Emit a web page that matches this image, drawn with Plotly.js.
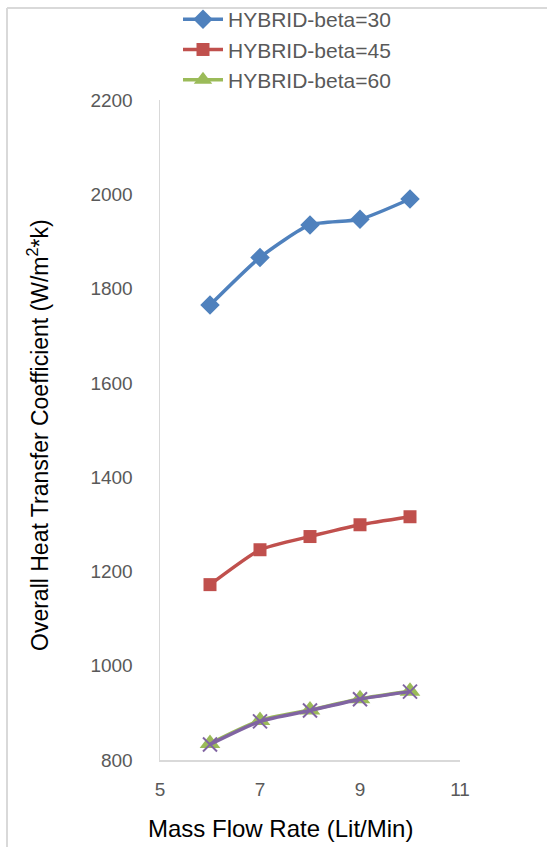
<!DOCTYPE html>
<html>
<head>
<meta charset="utf-8">
<script src="https://cdn.plot.ly/plotly-3.0.1.min.js"></script>
<style>html,body{margin:0;padding:0;background:#fff;}#chart{width:547px;height:847px;}</style>
</head>
<body>
<div id="chart"></div>
<script>
const flowRate = [6, 7, 8, 9, 10];
const beta30 = [1765, 1866, 1935, 1947, 1990];
const beta45 = [1172, 1246, 1274, 1299, 1316];
const beta60 = [835, 884, 906, 930, 946];
const hidden = [833, 882, 905, 929, 945];
const names = ['HYBRID-beta=30', 'HYBRID-beta=45', 'HYBRID-beta=60'];
const xTicks = [5, 7, 9, 11];
const yTicks = [800, 1000, 1200, 1400, 1600, 1800, 2000, 2200];
const xTitle = 'Mass Flow Rate (Lit/Min)';
const yTitle = 'Overall Heat Transfer Coefficient (W/m<sup>2</sup>*k)';

const traces = [
  {x: flowRate, y: beta30, name: names[0], mode: 'lines+markers',
   line: {color: '#4F81BD', width: 3.5, shape: 'spline', smoothing: 0.6},
   marker: {symbol: 'diamond', size: 15, color: '#4F81BD'}},
  {x: flowRate, y: beta45, name: names[1], mode: 'lines+markers',
   line: {color: '#C0504D', width: 3.5, shape: 'spline', smoothing: 0.5},
   marker: {symbol: 'square', size: 13, color: '#C0504D'}},
  {x: flowRate, y: beta60, name: names[2], mode: 'lines+markers',
   line: {color: '#9BBB59', width: 3.5, shape: 'spline', smoothing: 0.6},
   marker: {symbol: 'triangle-up', size: 18, color: '#9BBB59'}},
  {x: flowRate, y: hidden, name: '', showlegend: false, mode: 'lines+markers',
   line: {color: '#8064A2', width: 3.5, shape: 'spline', smoothing: 0.6},
   marker: {symbol: 'x-thin', size: 14, color: '#8064A2', line: {color: '#8064A2', width: 2}}}
];

const layout = {
  width: 547, height: 847,
  margin: {l: 160, r: 87, t: 100, b: 87, autoexpand: false},
  paper_bgcolor: '#fff', plot_bgcolor: '#fff',
  font: {family: 'Liberation Sans, Arial, sans-serif', color: '#595959', size: 18},
  showlegend: true,
  legend: {x: 0.06, y: 1.153, xanchor: 'left', yanchor: 'top', bgcolor: 'rgba(0,0,0,0)',
           font: {size: 21, color: '#595959'}, tracegroupgap: 0, itemwidth: 40},
  xaxis: {range: [5, 11], tickvals: xTicks, ticktext: xTicks.map(String), showgrid: false, zeroline: false,
          showline: true, linecolor: '#D9D9D9', linewidth: 1.5, ticks: '', ticklabelstandoff: 12,
          tickfont: {size: 19, color: '#595959'}},
  yaxis: {range: [800, 2200], tickvals: yTicks, ticktext: yTicks.map(String), showgrid: false, zeroline: false,
          showline: true, linecolor: '#D9D9D9', linewidth: 1.5, ticks: '', ticklabelstandoff: 22,
          tickfont: {size: 19, color: '#595959'}},
  annotations: [
    {text: xTitle, xref: 'paper', yref: 'paper', x: (280 - 160) / 300, y: (760 - 828) / 660,
     xanchor: 'center', yanchor: 'middle', showarrow: false, font: {size: 24, color: '#000'}},
    {text: yTitle, xref: 'paper', yref: 'paper', x: (38 - 160) / 300, y: (760 - 435) / 660,
     xanchor: 'center', yanchor: 'middle', textangle: -90, showarrow: false, font: {size: 23, color: '#000'}}
  ],
  shapes: [
    {type: 'line', xref: 'paper', yref: 'paper', x0: -0.51, x1: 1.3, y0: (760 - 8) / 660, y1: (760 - 8) / 660,
     line: {color: '#D9D9D9', width: 2}},
    {type: 'line', xref: 'paper', yref: 'paper', x0: -0.51, x1: -0.51, y0: (760 - 8) / 660, y1: -0.2,
     line: {color: '#D9D9D9', width: 2}}
  ]
};

Plotly.newPlot('chart', traces, layout, {displayModeBar: false, staticPlot: true});
</script>
</body>
</html>
